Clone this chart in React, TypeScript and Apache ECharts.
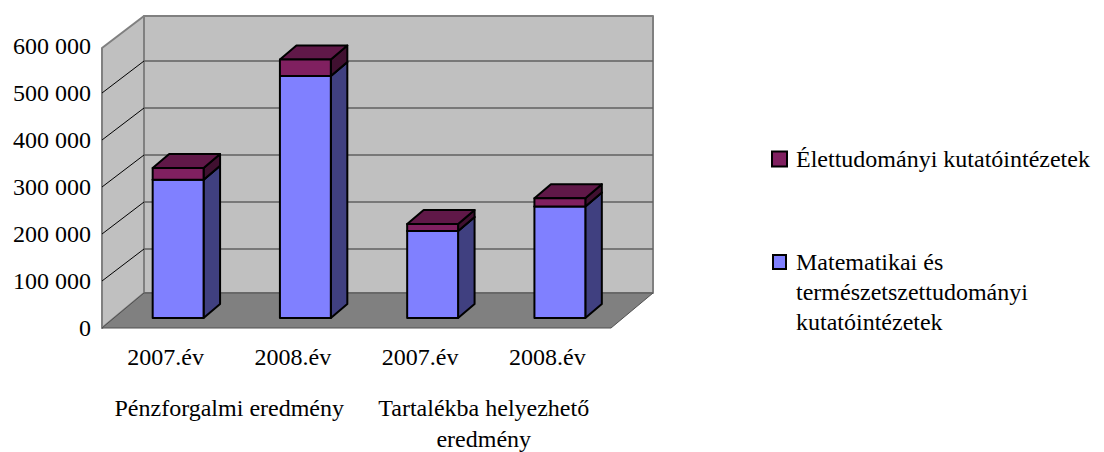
import React, { useEffect, useRef } from "react";
import * as echarts from "echarts";

const categories = ["2007.év", "2008.év", "2007.év", "2008.év"];
const groupLabels = ["Pénzforgalmi eredmény", "Tartalékba helyezhető\neredmény"];
const matematikaiName = "Matematikai és\ntermészetszettudományi\nkutatóintézetek";
const elettudomanyiName = "Élettudományi kutatóintézetek";
const matematikai = [294000, 515000, 185000, 237000];
const elettudomanyi = [25000, 35000, 15000, 18000];
const gridTicks = [100000, 200000, 300000, 400000, 500000];

const FONT = "Liberation Serif";
const DX = 42;
const DY = 32;

function poly(points: number[][], fill: string, stroke: string, lineWidth: number) {
  return { type: "polygon", shape: { points }, style: { fill, stroke, lineWidth, lineJoin: "round" } };
}

function renderWalls(params: any) {
  const c = params.coordSys;
  const l = c.x;
  const r = c.x + c.width;
  const t = c.y + 2;
  const b = c.y + c.height;
  return {
    type: "group",
    children: [
      poly([[l + DX, t - DY], [r + DX, t - DY], [r + DX, b - 35], [l + DX, b - 35]], "#C0C0C0", "#808080", 2),
      poly([[l, t], [l + DX, t - DY], [l + DX, b - 35], [l, b]], "#C0C0C0", "#808080", 2),
      poly([[l, b], [r, b], [r + DX, b - 35], [l + DX, b - 35]], "#808080", "#505050", 1),
    ],
  };
}

function renderGrid(params: any, api: any) {
  const c = params.coordSys;
  const y = api.coord([0, api.value(0)])[1];
  return {
    type: "group",
    children: [
      { type: "line", shape: { x1: c.x + DX, y1: y - DY, x2: c.x + c.width + DX, y2: y - DY }, style: { stroke: "#606060", lineWidth: 1.5 } },
      { type: "line", shape: { x1: c.x, y1: y, x2: c.x + DX, y2: y - DY }, style: { stroke: "#000000", lineWidth: 1 } },
    ],
  };
}

function makeBarRenderer(front: string, side: string, top: string) {
  return function (_params: any, api: any) {
    const cx = api.coord([api.value(0), 0])[0] + 12.5;
    const w = api.size([1, 0])[0] * 0.4;
    const y0 = api.coord([0, api.value(1)])[1] - 10;
    const y1 = api.coord([0, api.value(2)])[1] - 10;
    const l = cx - w / 2;
    const r = cx + w / 2;
    const dx = 16.5;
    const dy = 14;
    return {
      type: "group",
      children: [
        poly([[r, y1], [r + dx, y1 - dy], [r + dx, y0 - dy], [r, y0]], side, "#000000", 2),
        poly([[l, y1], [l + dx, y1 - dy], [r + dx, y1 - dy], [r, y1]], top, "#000000", 2),
        poly([[l, y1], [r, y1], [r, y0], [l, y0]], front, "#000000", 2),
      ],
    };
  };
}

const textStyle = { fontFamily: FONT, fontSize: 24, color: "#000000" };

export default function App() {
  const ref = useRef<HTMLDivElement>(null);
  useEffect(() => {
    document.body.style.margin = "0";
    const chart = echarts.init(ref.current!, null, { renderer: "svg" });
    chart.setOption({
      animation: false,
      backgroundColor: "#ffffff",
      grid: { left: 102, top: 46, width: 509, height: 282, outerBoundsMode: "none" },
      xAxis: [
        {
          type: "category",
          data: categories,
          axisLine: { show: false },
          axisTick: { show: false },
          axisLabel: { ...textStyle, margin: 17 },
        },
        {
          type: "category",
          position: "bottom",
          data: groupLabels,
          axisLine: { show: false },
          axisTick: { show: false },
          axisLabel: { ...textStyle, margin: 64, lineHeight: 31, interval: 0 },
        },
      ],
      yAxis: {
        type: "value",
        min: 0,
        max: 600000,
        interval: 100000,
        axisLine: { show: false },
        axisTick: { show: false },
        splitLine: { show: false },
        axisLabel: {
          ...textStyle,
          margin: 11,
          padding: [0, 0, 2, 0],
          formatter: (v: number) => (v === 0 ? "0" : `${v / 1000} 000`),
        },
      },
      legend: [
        {
          left: 771,
          top: 147,
          padding: 0,
          orient: "vertical",
          itemWidth: 15,
          itemHeight: 15,
          textStyle: { ...textStyle, padding: [0, 0, 0, 4] },
          data: [{ name: elettudomanyiName, icon: "rect", itemStyle: { color: "#802060", borderColor: "#000000", borderWidth: 2 } }],
        },
        {
          left: 771,
          top: 246,
          padding: 0,
          orient: "vertical",
          itemWidth: 15,
          itemHeight: 90,
          textStyle: { ...textStyle, lineHeight: 30, padding: [0, 0, 0, 4] },
          data: [{ name: matematikaiName, icon: "path://M0 0M1 8h13v14h-13zM15 90", itemStyle: { color: "#8080FF", borderColor: "#000000", borderWidth: 2 } }],
        },
      ],
      series: [
        { type: "custom", name: "falak", clip: false, data: [[0]], encode: { x: 0 }, renderItem: renderWalls, silent: true, z: 1 },
        { type: "custom", name: "rács", clip: false, data: gridTicks.map((t) => [t]), encode: { y: 0 }, renderItem: renderGrid, silent: true, z: 2 },
        {
          type: "custom",
          name: matematikaiName,
          clip: false,
          z: 3,
          itemStyle: { color: "#8080FF" },
          data: matematikai.map((v, i) => [i, 0, v]),
          encode: { x: 0, y: 2 },
          renderItem: makeBarRenderer("#8080FF", "#404080", "#6060BF"),
        },
        {
          type: "custom",
          name: elettudomanyiName,
          clip: false,
          z: 4,
          itemStyle: { color: "#802060" },
          data: elettudomanyi.map((v, i) => [i, matematikai[i], matematikai[i] + v]),
          encode: { x: 0, y: 2 },
          renderItem: makeBarRenderer("#802060", "#401030", "#601848"),
        },
      ],
    });
    return () => chart.dispose();
  }, []);
  return <div ref={ref} style={{ width: 1104, height: 452 }} />;
}
